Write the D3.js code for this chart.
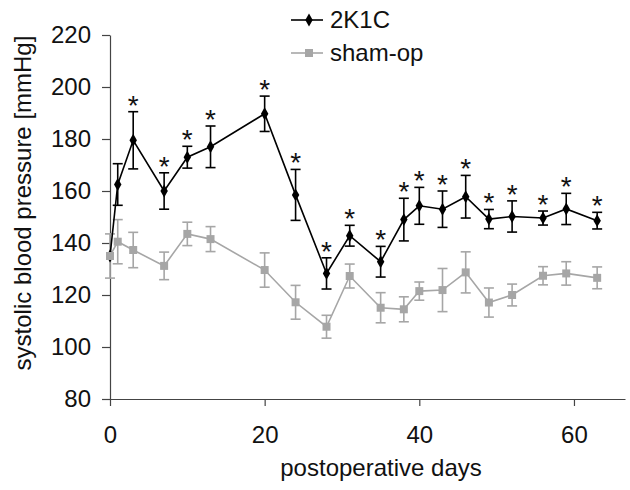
<!DOCTYPE html>
<html lang="en">
<head>
    <meta charset="UTF-8">
    <title>Systolic blood pressure</title>
    <script src="https://d3js.org/d3.v7.min.js"></script>
    <style type="text/css">
        body { margin: 0; background: #fff; }
        text { font-family: "Liberation Sans", Arial, sans-serif; fill: #111; }
    </style>
</head>
    <body>
        <script type="text/javascript">

        // Data
        var days      = [0, 1, 3, 7, 10, 13, 20, 24, 28, 31, 35, 38, 40, 43, 46, 49, 52, 56, 59, 63];
        var k1cMean   = [135, 162.5, 179.5, 160, 173, 177, 189.7, 158.5, 128.3, 142.8, 132.8, 149, 154.3, 153, 157.8, 149.2, 150.2, 149.6, 153.1, 148.6];
        var k1cErr    = [0, 8, 11, 7, 4.2, 8, 6.8, 9.8, 6, 4, 5.9, 8.2, 7.1, 7, 8.2, 3.7, 6, 2.7, 6, 3.2];
        var shamMean  = [135, 140.5, 137.3, 131.2, 143.5, 141.5, 129.6, 117.2, 107.8, 127.3, 115.1, 114.5, 121.5, 121.9, 128.7, 117.1, 120, 127.4, 128.3, 126.6];
        var shamErr   = [8.5, 8.5, 6.8, 5.3, 4.5, 4.8, 6.6, 6.5, 4.4, 4.6, 5.8, 4.8, 3.5, 8.3, 7.9, 5.6, 4.2, 3.5, 4.5, 4.2];
        var signif    = [0, 0, 1, 1, 1, 1, 1, 1, 1, 1, 1, 1, 1, 1, 1, 1, 1, 1, 1, 1];
        var yTicks    = [80, 100, 120, 140, 160, 180, 200, 220];
        var xTicks    = [0, 20, 40, 60];
        var seriesNames = ["2K1C", "sham-op"];

        var w = 630;
        var h = 490;
        var black = "#000";
        var grey = "#a6a6a6";

        var svg = d3.select("body")
            .append("svg")
            .attr("width", w)
            .attr("height", h);

        var xScale = d3.scaleLinear().domain([0, 66.6]).range([110, 625]);
        var yScale = d3.scaleLinear().domain([80, 220]).range([399, 35]);

        // Axes
        var yAxis = d3.axisLeft(yScale)
            .tickValues(yTicks)
            .tickSize(8)
            .tickSizeOuter(0)
            .tickPadding(11);
        var xAxis = d3.axisBottom(xScale)
            .tickValues(xTicks)
            .tickSize(7)
            .tickSizeOuter(0)
            .tickPadding(20);

        var gy = svg.append("g")
            .attr("transform", "translate(" + xScale(0) + ",0)")
            .call(yAxis);
        var gx = svg.append("g")
            .attr("transform", "translate(0," + yScale(80) + ")")
            .call(xAxis);

        [gx, gy].forEach(function(g) {
            g.select(".domain").attr("stroke", "#444").attr("stroke-width", 1.2);
            g.selectAll(".tick line").attr("stroke", "#444").attr("stroke-width", 1.2);
            g.selectAll(".tick text")
                .attr("font-size", "24px")
                .attr("font-family", "'Liberation Sans', Arial, sans-serif")
                .attr("fill", "#111");
        });

        // Axis titles
        svg.append("text")
            .attr("transform", "translate(31,203) rotate(-90)")
            .attr("text-anchor", "middle")
            .attr("font-size", "24px")
            .text("systolic blood pressure [mmHg]");

        svg.append("text")
            .attr("x", 381)
            .attr("y", 476)
            .attr("text-anchor", "middle")
            .attr("font-size", "24px")
            .text("postoperative days");

        function rows(mean, err) {
            return days.map(function(d, i) {
                return { day: d, v: mean[i], e: err[i], s: signif[i] };
            });
        }
        var k1c = rows(k1cMean, k1cErr);
        var sham = rows(shamMean, shamErr);

        var line = d3.line()
            .x(function(d) { return xScale(d.day); })
            .y(function(d) { return yScale(d.v); });

        function drawErrors(data, colour) {
            var g = svg.append("g")
                .attr("stroke", colour)
                .attr("stroke-width", 1.6)
                .attr("fill", "none");
            var eb = g.selectAll("g")
                .data(data.filter(function(d) { return d.e > 0; }))
                .enter()
                .append("g");
            eb.append("line")
                .attr("x1", function(d) { return xScale(d.day); })
                .attr("x2", function(d) { return xScale(d.day); })
                .attr("y1", function(d) { return yScale(d.v + d.e); })
                .attr("y2", function(d) { return yScale(d.v - d.e); });
            [1, -1].forEach(function(sign) {
                eb.append("line")
                    .attr("x1", function(d) { return xScale(d.day) - 5; })
                    .attr("x2", function(d) { return xScale(d.day) + 5; })
                    .attr("y1", function(d) { return yScale(d.v + sign * d.e); })
                    .attr("y2", function(d) { return yScale(d.v + sign * d.e); });
            });
        }

        function drawLine(data, colour) {
            svg.append("path")
                .datum(data)
                .attr("d", line)
                .attr("fill", "none")
                .attr("stroke", colour)
                .attr("stroke-width", 1.6);
        }

        var diamond = d3.symbol().type(d3.symbolDiamond).size(48);
        var square = d3.symbol().type(d3.symbolSquare).size(64);

        function drawMarks(data, colour, sym) {
            svg.append("g")
                .selectAll("path")
                .data(data)
                .enter()
                .append("path")
                .attr("d", sym)
                .attr("fill", colour)
                .attr("transform", function(d) {
                    return "translate(" + xScale(d.day) + "," + yScale(d.v) + ")";
                });
        }

        drawErrors(sham, grey);
        drawLine(sham, grey);
        drawErrors(k1c, black);
        drawLine(k1c, black);
        drawMarks(k1c, black, diamond);
        drawMarks(sham, grey, square);

        // Significance stars above the 2K1C error bars
        svg.append("g")
            .selectAll("text")
            .data(k1c.filter(function(d) { return d.s; }))
            .enter()
            .append("text")
            .attr("x", function(d) { return xScale(d.day); })
            .attr("y", function(d) { return yScale(d.v + d.e) + 3; })
            .attr("text-anchor", "middle")
            .attr("font-size", "28px")
            .text("*");

        // Legend
        var legend = svg.append("g");
        var legendY = [20, 53];
        var legendCol = [black, grey];
        var legendSym = [diamond, square];
        seriesNames.forEach(function(name, i) {
            legend.append("line")
                .attr("x1", 291).attr("x2", 323)
                .attr("y1", legendY[i]).attr("y2", legendY[i])
                .attr("stroke", legendCol[i])
                .attr("stroke-width", 1.6);
            legend.append("path")
                .attr("d", legendSym[i]())
                .attr("fill", legendCol[i])
                .attr("transform", "translate(309," + legendY[i] + ")");
            legend.append("text")
                .attr("x", 330)
                .attr("y", legendY[i] + 8)
                .attr("font-size", "24px")
                .text(name);
        });

        </script>
    </body>
</html>
